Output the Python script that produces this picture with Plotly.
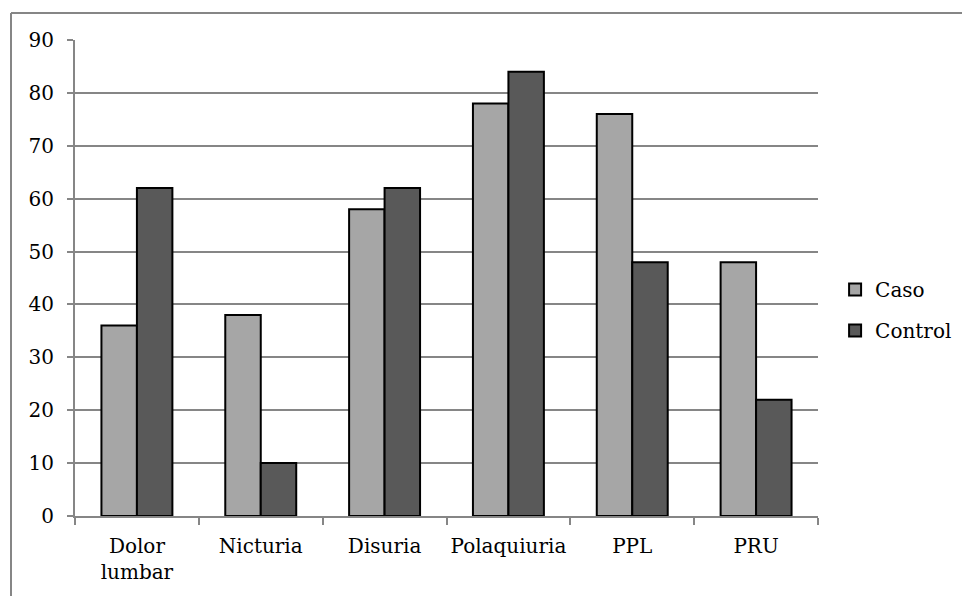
import plotly.graph_objects as go

categories = ["Dolor<br>lumbar", "Nicturia", "Disuria", "Polaquiuria", "PPL", "PRU"]
caso = [36, 38, 58, 78, 76, 48]
control = [62, 10, 62, 84, 48, 22]
y_ticks = [0, 10, 20, 30, 40, 50, 60, 70, 80, 90]

FONT = "DejaVu Serif"
FS = 20
fig = go.Figure()
fig.add_trace(go.Bar(name="Caso", x=categories, y=caso, legendgroup="a",
                     marker=dict(color="#a6a6a6", line=dict(color="black", width=2))))
fig.add_trace(go.Bar(name="Control", x=categories, y=control, legendgroup="b",
                     marker=dict(color="#595959", line=dict(color="black", width=2))))

L, R, T, B = 75, 144, 40, 80
W, H = 962, 596
pw, ph = W - L - R, H - T - B
bx = (11 - L) / pw          # left border in paper coords
by = (H - B - 13) / ph      # top border in paper coords
border = dict(color="#868686", width=2)

fig.update_layout(
    width=W, height=H,
    margin=dict(l=L, r=R, t=T, b=B, pad=0, autoexpand=False),
    paper_bgcolor="white", plot_bgcolor="white",
    barmode="group", bargap=0.427, bargroupgap=0,
    font=dict(family=FONT, size=FS, color="black"),
    legend=dict(x=1.023, y=0.433, xanchor="left", yanchor="middle",
                font=dict(family=FONT, size=FS), itemwidth=30,
                tracegroupgap=12, bgcolor="rgba(0,0,0,0)"),
    xaxis=dict(showline=True, linecolor="#868686", linewidth=2,
               ticks="outside", ticklen=7, tickcolor="#868686", tickwidth=2,
               tickson="boundaries", showgrid=False, tickfont=dict(size=FS),
               tickangle=0, ticklabelstandoff=11, automargin=False),
    yaxis=dict(range=[0, 90], tickvals=y_ticks, showline=True, linecolor="#868686",
               linewidth=2, ticks="outside", ticklen=6, tickcolor="#868686",
               tickwidth=2, showgrid=True, gridcolor="#868686", gridwidth=2,
               zeroline=False, tickfont=dict(size=FS), ticklabelstandoff=9,
               automargin=False),
    shapes=[
        dict(type="line", xref="paper", yref="paper", x0=bx, x1=(W - L) / pw,
             y0=by, y1=by, line=border, layer="below"),
        dict(type="line", xref="paper", yref="paper", x0=bx, x1=bx,
             y0=by, y1=-B / ph, line=border, layer="below"),
    ],
)
fig.write_html("out.html", config={"displayModeBar": False},
               post_script="document.body.style.margin='0px';"
                           "document.body.style.overflow='hidden';"
                           "document.documentElement.style.overflow='hidden';")
